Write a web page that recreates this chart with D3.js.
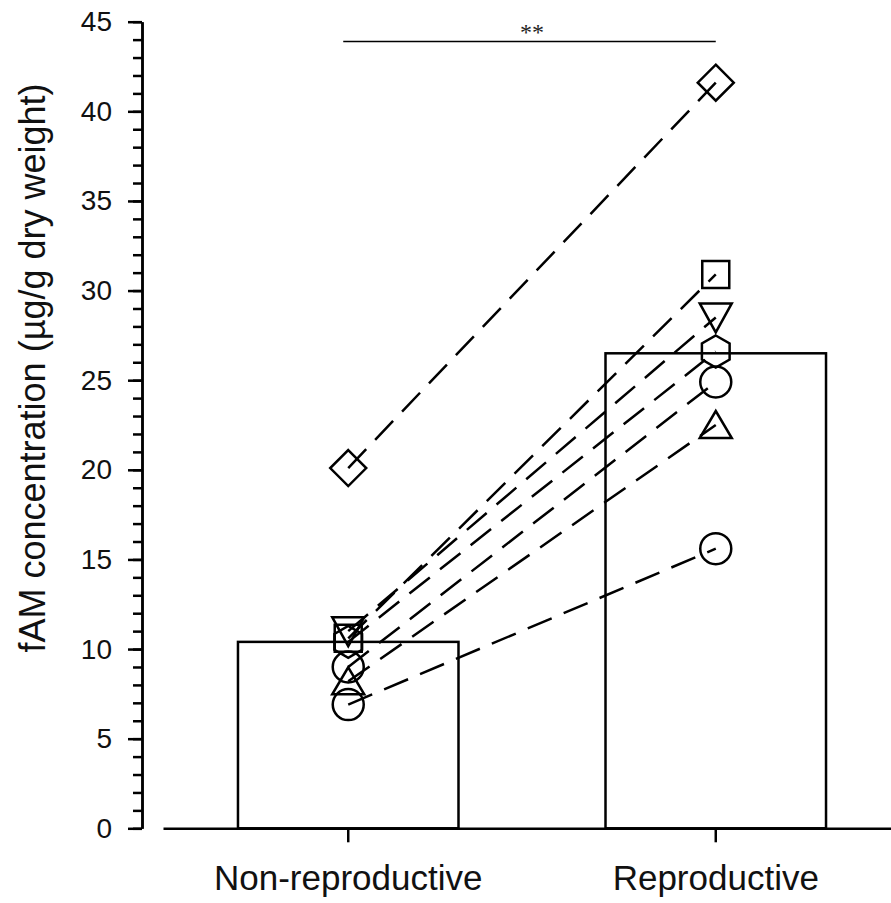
<!DOCTYPE html>
<html>

<head>
    <meta charset="utf-8">
    <script src="https://cdn.jsdelivr.net/npm/d3@7"></script>
    <style>
        body { margin: 0; background: #fff; }
    </style>
</head>

<body>
    <script>
        // values
        const categories = ["Non-reproductive", "Reproductive"];
        const barValues = [10.4, 26.5];
        const shapes = ["diamond", "square", "triangle-down", "hexagon", "circle", "triangle-up", "circle"];
        const nonReproductive = [20.1, 10.6, 11.0, 10.4, 9.0, 8.2, 6.9];
        const reproductive = [41.6, 30.9, 28.5, 26.6, 24.9, 22.5, 15.6];
        const yMajorTicks = [0, 5, 10, 15, 20, 25, 30, 35, 40, 45];

        let width = 891;
        let height = 903;

        let svg = d3.select("body").append("svg")
            .attr("width", width)
            .attr("height", height)
            .style("font-family", "Liberation Sans, Arial, sans-serif");

        let x = d3.scaleBand()
            .domain(categories)
            .range([163, 901])
            .paddingInner(0.4)
            .paddingOuter(0.204);

        let y = d3.scaleLinear()
            .domain([0, 45])
            .range([828.3, 21.7]);

        let cx = c => x(c) + x.bandwidth() / 2;

        // bars
        svg.selectAll("rect.bar")
            .data(categories)
            .join("rect")
            .attr("class", "bar")
            .attr("x", d => x(d))
            .attr("y", (d, i) => y(barValues[i]))
            .attr("width", x.bandwidth())
            .attr("height", (d, i) => y(0) - y(barValues[i]))
            .attr("fill", "#fff")
            .attr("stroke", "#000")
            .attr("stroke-width", 2.5);

        // y axis: minor then major ticks
        let yAxisG = svg.append("g").attr("transform", "translate(142,0)");
        yAxisG.call(d3.axisLeft(y).tickValues(d3.range(0, 46, 1)).tickSize(9).tickSizeOuter(0).tickFormat(""));
        yAxisG.append("g").call(d3.axisLeft(y).tickValues(yMajorTicks).tickSize(14).tickSizeOuter(0).tickPadding(16));
        yAxisG.selectAll("path, line").attr("stroke", "#000").attr("stroke-width", 2.5);
        yAxisG.selectAll("text")
            .attr("font-size", 28)
            .attr("font-family", "Liberation Sans, Arial, sans-serif")
            .attr("fill", "#111");

        // x axis
        let xAxisG = svg.append("g").attr("transform", `translate(0,${y(0)})`)
            .call(d3.axisBottom(x).tickSize(14).tickSizeOuter(0).tickPadding(23));
        xAxisG.selectAll("path, line").attr("stroke", "#000").attr("stroke-width", 2.5);
        xAxisG.selectAll("text")
            .attr("font-size", 35)
            .attr("font-family", "Liberation Sans, Arial, sans-serif")
            .attr("fill", "#111");

        // y title
        svg.append("text")
            .attr("transform", "rotate(-90)")
            .attr("x", -368)
            .attr("y", 45)
            .attr("text-anchor", "middle")
            .attr("font-size", 36)
            .attr("fill", "#111")
            .text("fAM concentration (µg/g dry weight)");

        // paired dashed lines
        let pairs = nonReproductive.map((v, i) => ({ a: v, b: reproductive[i], shape: shapes[i] }));

        svg.selectAll("line.pair")
            .data(pairs)
            .join("line")
            .attr("class", "pair")
            .attr("x1", cx(categories[0]))
            .attr("y1", d => y(d.a))
            .attr("x2", cx(categories[1]))
            .attr("y2", d => y(d.b))
            .attr("stroke", "#000")
            .attr("stroke-width", 2.5)
            .attr("stroke-dasharray", "26,13");

        function circlePath(r) {
            let p = d3.path();
            p.arc(0, 0, r, 0, 2 * Math.PI);
            p.closePath();
            return p.toString();
        }

        function shapePath(s) {
            if (s == "circle") return circlePath(15.5);
            if (s == "square") return "M-13.5,-13.5H13.5V13.5H-13.5Z";
            if (s == "diamond") return "M0,-18L18,0L0,18L-18,0Z";
            if (s == "triangle-up") return "M0,-14L16,13L-16,13Z";
            if (s == "triangle-down") return "M-16,-14L16,-14L0,15Z";
            if (s == "hexagon") {
                let pts = d3.range(6).map(k => {
                    let a = Math.PI / 3 * k - Math.PI / 2;
                    return [16 * Math.cos(a), 16 * Math.sin(a)];
                });
                return "M" + pts.join("L") + "Z";
            }
        }

        let markers = [];
        pairs.forEach(d => {
            markers.push({ cat: categories[0], v: d.a, shape: d.shape });
            markers.push({ cat: categories[1], v: d.b, shape: d.shape });
        });

        svg.selectAll("path.marker")
            .data(markers)
            .join("path")
            .attr("class", "marker")
            .attr("transform", d => `translate(${cx(d.cat)},${y(d.v)})`)
            .attr("d", d => shapePath(d.shape))
            .attr("fill", "none")
            .attr("stroke", "#000")
            .attr("stroke-width", 2.5);

        // significance bar
        svg.append("line")
            .attr("x1", cx(categories[0]) - 5)
            .attr("x2", cx(categories[1]))
            .attr("y1", y(43.9))
            .attr("y2", y(43.9))
            .attr("stroke", "#000")
            .attr("stroke-width", 1.5);

        svg.append("text")
            .attr("x", (cx(categories[0]) + cx(categories[1])) / 2)
            .attr("y", y(43.9) - 1)
            .attr("text-anchor", "middle")
            .attr("font-family", "Liberation Serif, Times New Roman, serif")
            .attr("font-size", 24)
            .attr("fill", "#222")
            .text("**");
    </script>
</body>

</html>
